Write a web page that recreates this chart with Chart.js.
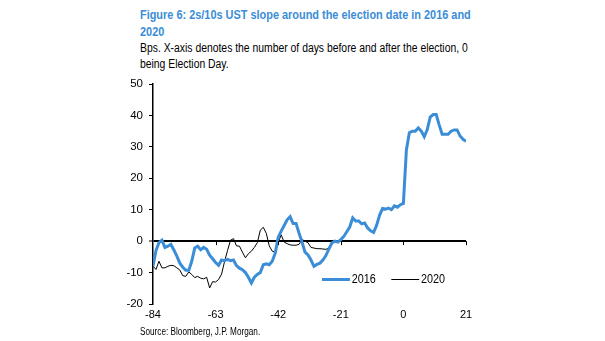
<!DOCTYPE html>
<html>
<head>
<meta charset="utf-8">
<script src="https://cdn.jsdelivr.net/npm/chart.js@4/dist/chart.umd.min.js"></script>
<style>
  body { margin: 0; background: #fff; width: 605px; height: 341px; position: relative; overflow: hidden;
         font-family: "Liberation Sans", Arial, sans-serif; }
  .sq { position: absolute; left: 140px; white-space: nowrap; transform-origin: 0 0; }
  #title { top: 6px; color: #3a8dd6; font-weight: bold; font-size: 13px; line-height: 17px; transform: scaleX(0.84); }
  #sub { top: 40px; font-size: 12px; line-height: 16px; color: #000; transform: scaleX(0.865); }
  #src { top: 326px; font-size: 10px; color: #000; transform: scaleX(0.82); }
  #wrap { position: absolute; left: 100px; top: 74px; width: 390px; height: 260px; }
  #legend { position: absolute; left: 322px; top: 272px; font-size: 12px; color: #000; transform: scaleX(0.9); }
  #legend span.sw { display: inline-block; width: 31px; vertical-align: middle; margin-right: 2px; }
  #legend span.item { margin-right: 14px; }
</style>
</head>
<body>
<div id="title" class="sq">Figure 6: 2s/10s UST slope around the election date in 2016 and<br>2020</div>
<div id="sub" class="sq">Bps. X-axis denotes the number of days before and after the election, 0<br>being Election Day.</div>
<div id="wrap"><canvas id="chart" width="390" height="260"></canvas></div>
<div id="legend" class="sq">
  <span class="item"><span class="sw" style="border-top:3px solid #3a8dd6"></span>2016</span>
  <span class="item"><span class="sw" style="border-top:1px solid #000"></span>2020</span>
</div>
<div id="src" class="sq">Source: Bloomberg, J.P. Morgan.</div>
<script>
// days relative to election day
const firstDay = -84;
const seriesNames = ['2016', '2020'];

// 2016 slope, bp, days -84 .. 21
const slope2016 = [
  -8, -3, -0.5, 0.3, -2, -1.6, -1, -2.8, -4.8, -7,
  -8.3, -9.3, -9.3, -6.4, -2.2, -1.6, -2.7, -2, -2.6, -4.5,
  -5.6, -6.8, -7.7, -6, -6.2, -5.8, -6.2, -6, -7.8, -8.6,
  -9.1, -10, -11.5, -13.3, -11.5, -10.6, -10, -7.5, -7.2, -7.5,
  -6.4, -3.8, 1.2, 3.2, 5, 6.8, 7.8, 5.6, 5.6, 2.5,
  -0.3, -3.5, -4.4, -6, -8, -7.4, -7, -6, -4.6, -2.5,
  -0.6, 0, -0.3, 0.5, 1.5, 3, 4.5, 7.4, 6.4, 6.4,
  5.5, 5.8, 4.2, 3.3, 2.8, 5, 8.2, 10.4, 10.2, 10.5,
  10, 11.2, 10.8, 11.6, 12, 29, 34.5, 35, 35, 36,
  35, 33.2, 35.5, 39.5, 40.3, 40.3, 37, 34, 34, 34,
  35, 35.4, 35.4, 33.5, 32.4, 31.8
];

// 2020 slope, bp, days -84 .. -23
const slope2020 = [
  -8, -9, -6.4, -8.5, -8.5, -8, -7.7, -7.8, -8.5, -9.2,
  -11, -11.2, -9.8, -10.6, -11.6, -11.2, -11.8, -12, -11.5, -14.9,
  -12.9, -13, -12.2, -10.5, -6.5, -3, 0.3, 0.8, -1.5, -1.6,
  -3.5, -5.3, -4, -3.2, -2, -0.5, 3.5, 4.4, 2.5, -1.5,
  -3.2, -3.5, -0.5, 2, -0.3, -0.8, -1.2, -1.3, -1.3, -1,
  0.5, 0, -0.5, -2, -2.2, -2.4, -2.4, -2.5, -2.6, -2.2,
  -0.3, 0.3
];

const xTicks = [-84, -63, -42, -21, 0, 21];
const yTicks = [-20, -10, 0, 10, 20, 30, 40, 50];

const FONT = '"Liberation Sans", Arial, sans-serif';

function toPoints(arr) {
  return arr.map((v, i) => ({ x: firstDay + i, y: v }));
}

// small tick marks hanging below the zero line
const zeroTicks = {
  id: 'zeroTicks',
  afterDatasetsDraw(chart) {
    const ctx = chart.ctx, xs = chart.scales.x, ys = chart.scales.y;
    const y0 = ys.getPixelForValue(0);
    ctx.save();
    ctx.strokeStyle = '#000';
    ctx.lineWidth = 1;
    xTicks.slice(1).forEach(t => {
      const px = Math.round(xs.getPixelForValue(t)) + 0.5;
      ctx.beginPath();
      ctx.moveTo(px, y0);
      ctx.lineTo(px, y0 + 4);
      ctx.stroke();
    });
    ctx.restore();
  }
};

new Chart(document.getElementById('chart'), {
  type: 'line',
  data: {
    datasets: [
      { label: seriesNames[0], data: toPoints(slope2016), borderColor: '#3a8dd6', borderWidth: 3,
        pointRadius: 0, tension: 0, order: 1 },
      { label: seriesNames[1], data: toPoints(slope2020), borderColor: '#000', borderWidth: 1,
        pointRadius: 0, tension: 0, order: 2 }
    ]
  },
  options: {
    responsive: false,
    animation: false,
    layout: { padding: { top: 10, right: 24, bottom: 0, left: 0 } },
    plugins: { legend: { display: false }, tooltip: { enabled: false } },
    scales: {
      x: {
        type: 'linear', min: -84, max: 21,
        afterBuildTicks: s => { s.ticks = xTicks.map(v => ({ value: v })); },
        afterFit: s => { s.height = 30; s.paddingLeft = 0; s.paddingRight = 0; },
        grid: { display: false, drawTicks: false },
        border: { display: false },
        ticks: { color: '#000', padding: 4, maxRotation: 0, font: { family: FONT, size: 11 } }
      },
      y: {
        min: -20, max: 50,
        afterBuildTicks: s => { s.ticks = yTicks.map(v => ({ value: v })); },
        afterFit: s => { s.width = 53; s.paddingTop = 0; s.paddingBottom = 0; },
        grid: {
          color: c => (c.tick && c.tick.value === 0) ? '#000' : 'rgba(0,0,0,0)',
          lineWidth: c => (c.tick && c.tick.value === 0) ? 2 : 1,
          tickColor: '#000', tickLength: 4, tickWidth: 1
        },
        border: { display: true, color: '#000', width: 1.5 },
        ticks: { color: '#000', padding: 6, font: { family: FONT, size: 11.5 } }
      }
    }
  },
  plugins: [zeroTicks]
});
</script>
</body>
</html>
